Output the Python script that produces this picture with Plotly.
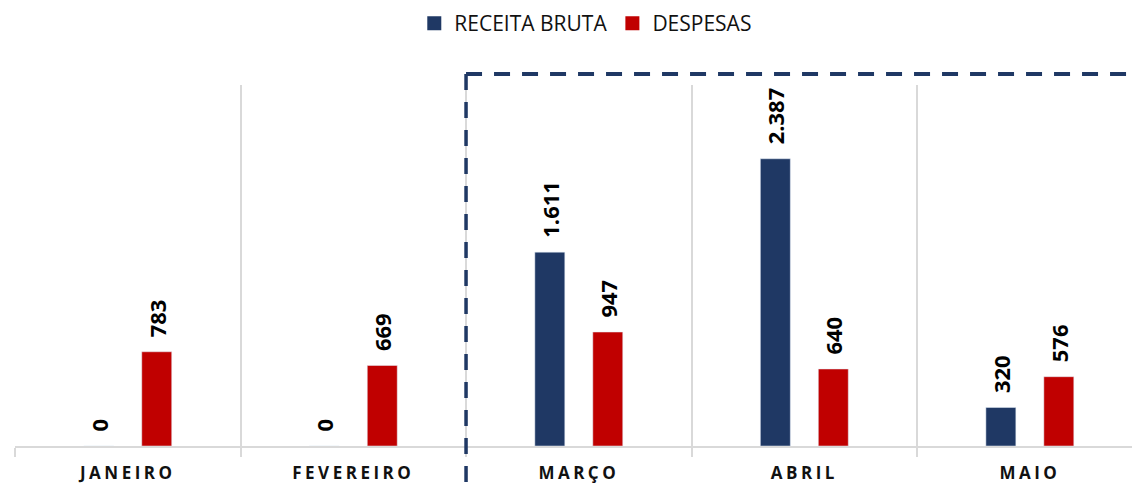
import plotly.graph_objects as go

months = ["JANEIRO", "FEVEREIRO", "MARÇO", "ABRIL", "MAIO"]
receita = [0, 0, 1611, 2387, 320]
despesas = [783, 669, 947, 640, 576]

NAVY = "#1F3864"
RED = "#C00000"
GRID = "#D9D9D9"
PAD = "\u00a0\u00a0"
LABEL_FONT = dict(family="Open Sans", size=22, color="black", weight="bold")

fig = go.Figure()
fig.add_trace(go.Bar(
    x=months, y=receita, name="RECEITA BRUTA", marker_color=NAVY, showlegend=False,
    texttemplate=PAD + "%{y:,.0f}", textposition="outside", textangle=-90,
    constraintext="none", cliponaxis=False, textfont=LABEL_FONT,
))
fig.add_trace(go.Bar(
    x=months, y=despesas, name="DESPESAS", marker_color=RED, showlegend=False,
    texttemplate=PAD + "%{y:,.0f}", textposition="outside", textangle=-90,
    constraintext="none", cliponaxis=False, textfont=LABEL_FONT,
))
# legend entries with larger square swatches
for nm, col in [("RECEITA BRUTA", NAVY), ("DESPESAS", RED)]:
    fig.add_trace(go.Scatter(
        x=[None], y=[None], mode="markers", name=nm,
        marker=dict(symbol="square", size=14, color=col),
    ))

fig.update_layout(
    width=1132, height=491,
    margin=dict(l=15, r=0, t=85, b=45),
    plot_bgcolor="white", paper_bgcolor="white",
    separators=",.",
    barmode="group", bargap=0.486, bargroupgap=0.483,
    font=dict(family="Open Sans", color="black"),
    legend=dict(orientation="h", x=0.511, xanchor="center", y=1.17, yanchor="middle",
                font=dict(size=21, family="Open Sans", color="#111"), traceorder="normal",
                itemwidth=30),
    xaxis=dict(
        range=[-0.5, 4.453], tickson="boundaries", showgrid=True, gridcolor=GRID, gridwidth=2,
        showline=True, linecolor=GRID, linewidth=2,
        ticks="outside", ticklen=9, tickwidth=2, tickcolor=GRID,
        tickfont=dict(family="Open Sans", size=17, color="#111", weight="bold"),
        ticklabelstandoff=11,
    ),
    yaxis=dict(range=[0, 3000], visible=False, showgrid=False, zeroline=False),
    shapes=[
        dict(type="line", xref="x", yref="paper", x0=1.5, x1=1.5, y0=1.0305, y1=-0.14,
             line=dict(color=NAVY, width=3.5, dash="16px,12px")),
        dict(type="line", xref="x", yref="paper", x0=1.5, x1=4.6, y0=1.0305, y1=1.0305,
             line=dict(color=NAVY, width=4, dash="16px,12px")),
    ],
)

post = """
document.body.style.margin='0';
document.querySelectorAll('.xtick text').forEach(function(t){t.style.letterSpacing='3.5px';});
"""
fig.write_html("out.html", post_script=post, config={"displayModeBar": False})
